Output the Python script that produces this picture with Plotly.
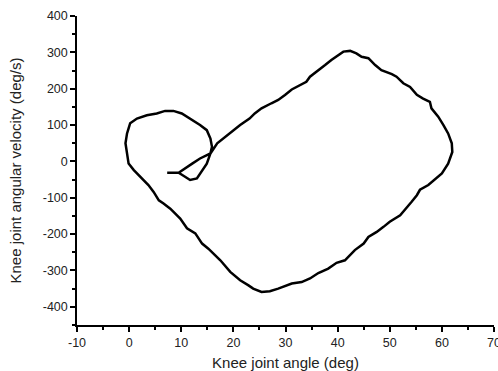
import plotly.graph_objects as go

# Knee joint angle (deg) along the trajectory
angle = [7.3, 9.5, 10.5, 11.7, 13.0, 14.0, 14.9, 15.6, 15.9, 15.6, 14.9, 13.6, 12.1, 10.1,
         8.5, 6.9, 5.3, 3.4, 1.5, 0.2, -0.1, -0.4, -0.7, -0.4, -0.1, 0.9, 2.1, 3.1, 3.7,
         4.7, 5.7, 6.6, 7.9, 9.8, 11.1, 12.7, 14.0, 15.2, 17.5, 19.4, 21.3, 22.9, 23.8,
         25.4, 27.0, 28.6, 31.2, 33.1, 34.7, 36.3, 38.2, 39.8, 41.4, 43.3, 45.0, 45.9,
         47.5, 48.8, 50.0, 52.0, 52.9, 54.2, 55.2, 55.8, 57.4, 58.4, 60.0, 61.2, 62.0,
         61.9, 61.2, 60.3, 59.3, 58.0, 57.7, 56.4, 55.2, 53.9, 52.6, 51.3, 50.4, 48.4,
         47.2, 45.9, 44.6, 43.6, 42.4, 41.1, 40.1, 38.8, 37.6, 36.3, 34.7, 34.0, 32.5,
         31.2, 29.9, 28.6, 27.3, 25.4, 24.1, 23.1, 21.3, 19.7, 18.1, 16.9, 15.6, 13.6,
         12.1, 10.8, 9.5]
# Knee joint angular velocity (deg/s)
velocity = [-31, -31, -40, -51, -47, -24, -6, 22, 40, 63, 86, 100, 114, 132,
            139, 139, 132, 127, 118, 105, 91, 77, 50, 22, -6, -24, -42, -56, -65,
            -84, -107, -116, -130, -157, -184, -198, -226, -240, -272, -304, -327, -341, -350,
            -359, -357, -350, -336, -332, -322, -307, -295, -279, -272, -244, -226, -208,
            -194, -180, -166, -148, -134, -111, -93, -78, -65, -52, -33, -6, 26,
            50, 77, 100, 123, 146, 164, 173, 183, 205, 215, 233, 240, 251,
            265, 284, 288, 297, 304, 302, 293, 279, 265, 250, 233, 219, 207,
            198, 183, 169, 160, 146, 132, 118, 100, 82, 63, 50, 22, 8,
            -6, -19, -31]

x_ticks = [-10, 0, 10, 20, 30, 40, 50, 60, 70]
y_ticks = [-400, -300, -200, -100, 0, 100, 200, 300, 400]

fig = go.Figure(go.Scatter(x=angle, y=velocity, mode="lines",
                           line=dict(color="black", width=2.5),
                           showlegend=False, hoverinfo="skip"))

axis_common = dict(showline=True, linecolor="black", linewidth=1.5, ticks="outside",
                   tickcolor="black", ticklen=5, tickwidth=1.5, showgrid=False,
                   zeroline=False, mirror=False, ticklabeloverflow="allow",
                   tickfont=dict(family="Arial, Liberation Sans", size=12.5, color="#222"),
                   title_font=dict(family="Arial, Liberation Sans", size=15, color="#222"))

fig.update_xaxes(range=[-10, 70], tickvals=x_ticks, ticktext=[str(v) for v in x_ticks],
                 minor=dict(dtick=5, ticks="outside", ticklen=3, tickcolor="black", tickwidth=1.5),
                 title_text="Knee joint angle (deg)", title_standoff=9, **axis_common)
fig.update_yaxes(range=[-450, 400], tickvals=y_ticks, ticktext=[str(v) for v in y_ticks],
                 minor=dict(dtick=50, ticks="outside", ticklen=3, tickcolor="black", tickwidth=1.5),
                 title_text="Knee joint angular velocity (deg/s)", title_standoff=17, **axis_common)

fig.update_layout(width=498, height=371, margin=dict(l=77, r=4, t=16, b=46, autoexpand=False),
                  plot_bgcolor="white", paper_bgcolor="white")
fig.update_xaxes(automargin=False)
fig.update_yaxes(automargin=False)

fig.write_html("out.html", config={"displayModeBar": False},
               post_script="document.body.style.margin='0';document.body.style.overflow='hidden';")
